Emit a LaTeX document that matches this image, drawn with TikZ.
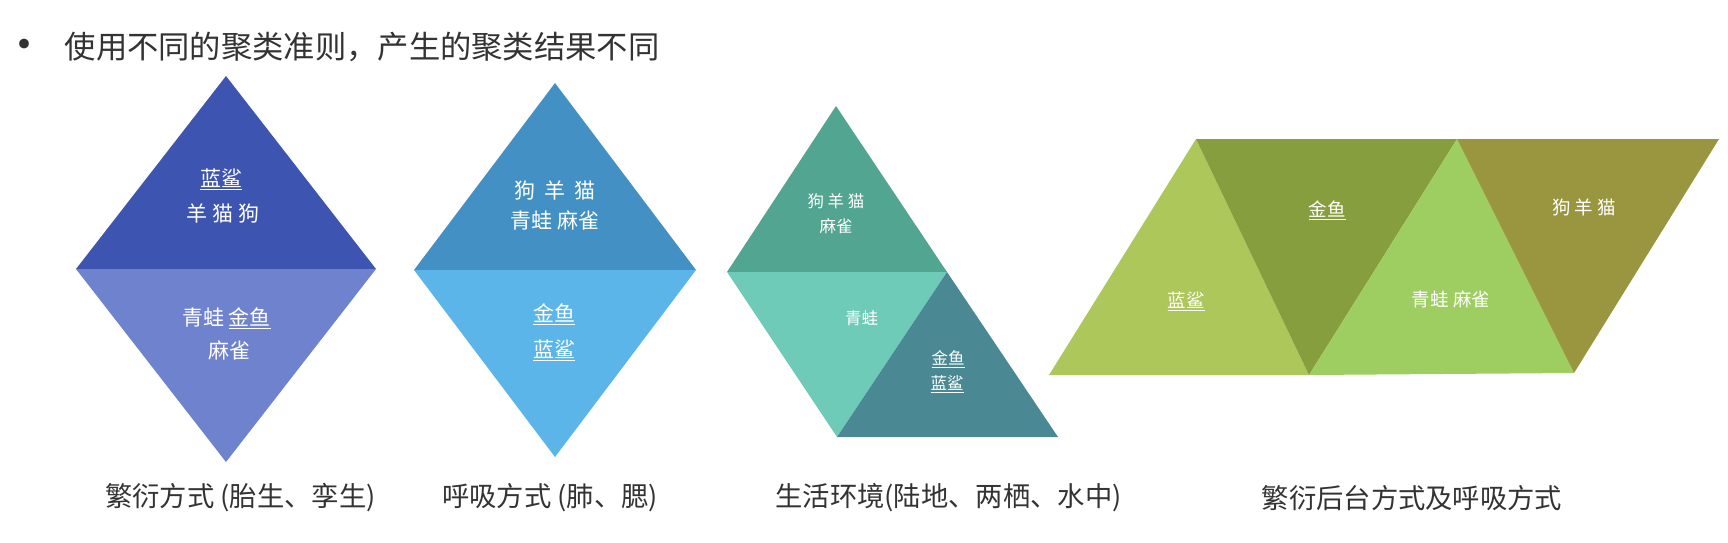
\documentclass[tikz,border=0pt]{standalone}
\usepackage{fontspec}
\newfontfamily\cjk{Noto Sans CJK SC}
\definecolor{dAt}{HTML}{3D55B0}
\definecolor{dAb}{HTML}{6F82CD}
\definecolor{dBt}{HTML}{4391C4}
\definecolor{dBb}{HTML}{5BB5E8}
\definecolor{sCt}{HTML}{52A591}
\definecolor{sCm}{HTML}{6ECBB8}
\definecolor{sCb}{HTML}{4A8993}
\definecolor{gA}{HTML}{ADC75A}
\definecolor{gB}{HTML}{869E3D}
\definecolor{gC}{HTML}{9ECE62}
\definecolor{gD}{HTML}{99963F}
\definecolor{txtdark}{HTML}{333333}
\newcommand\ulw[1]{\setbox0=\hbox{#1}\rlap{\raisebox{-0.18em}[0pt][0pt]{\rule{\wd0}{0.05em}}}\box0}
\begin{document}
\begin{tikzpicture}[x=1pt,y=-1pt,
  lbl/.style={text=white,inner sep=0pt,anchor=center},
  lblL/.style={lbl,font=\cjk\fontsize{21}{25}\selectfont},
  lblM/.style={lbl,font=\cjk\fontsize{18.5}{22}\selectfont},
  lblS/.style={lbl,font=\cjk\fontsize{16.5}{20}\selectfont},
  captxt/.style={text=txtdark,inner sep=0pt,anchor=center,font=\cjk\fontsize{27.3}{32}\selectfont},
  ttl/.style={text=txtdark,inner sep=0pt,font=\cjk\fontsize{31.3}{36}\selectfont},
  bulsty/.style={text=txtdark,inner sep=0pt,font=\cjk\fontsize{46}{50}\selectfont}]
\useasboundingbox (0,0) rectangle (1728,542);
\fill[white] (0,0) rectangle (1728,542);

% title
\node[bulsty,anchor=center] (bul) at (24.5,50) {•};
\node[ttl,anchor=west] (title) at (64.5,47) {使用不同的聚类准则，产生的聚类结果不同};

% diamond 1
\fill[dAt] (226,76) -- (376,269) -- (76,269) -- cycle;
\fill[dAb] (76,269) -- (376,269) -- (226,462) -- cycle;
\node[lblL] (a1) at (221,178) {\ulw{蓝鲨}};
\node[lblL] (a2) at (223,213) {羊 猫 狗};
\node[lblL] (a3) at (226.5,317) {青蛙 \ulw{金鱼}};
\node[lblL] (a4) at (229,350) {麻雀};

% diamond 2
\fill[dBt] (555,83) -- (696,270) -- (414,270) -- cycle;
\fill[dBb] (414,270) -- (696,270) -- (555,457) -- cycle;
\node[lblL] (b1) at (555,190.5) {狗\hspace{9pt}羊\hspace{9pt}猫};
\node[lblL] (b2) at (555,220) {青蛙 麻雀};
\node[lblL] (b3) at (554,313) {\ulw{金鱼}};
\node[lblL] (b4) at (554,349) {\ulw{蓝鲨}};

% shape 3
\fill[sCt] (836,106) -- (947,272) -- (727,272) -- cycle;
\fill[sCm] (727,272) -- (947,272) -- (837,437) -- cycle;
\fill[sCb] (947,272) -- (1058,437) -- (837,437) -- cycle;
\node[lblS] (c1) at (836,201.5) {狗 羊 猫};
\node[lblS] (c2) at (836,226.5) {麻雀};
\node[lblS] (c3) at (861.5,318.5) {青蛙};
\node[lblS] (c4) at (948,358) {\ulw{金鱼}};
\node[lblS] (c5) at (947,383) {\ulw{蓝鲨}};

% shape 4
\fill[gA] (1049,375) -- (1196,139) -- (1309,375) -- cycle;
\fill[gB] (1196,139) -- (1457,139) -- (1309,375) -- cycle;
\fill[gC] (1309,375) -- (1457,139) -- (1574,373) -- cycle;
\fill[gD] (1457,139) -- (1719,139) -- (1574,373) -- cycle;
\node[lblM] (e1) at (1327,209) {\ulw{金鱼}};
\node[lblM] (e2) at (1584,207) {狗 羊 猫};
\node[lblM] (e3) at (1186,300) {\ulw{蓝鲨}};
\node[lblM] (e4) at (1451,299) {青蛙 麻雀};

% captions
\node[captxt] (k1) at (240.5,498) {繁衍方式 (胎生、孪生)};
\node[captxt] (k2) at (550,498) {呼吸方式 (肺、腮)};
\node[captxt] (k3) at (948.5,498) {生活环境(陆地、两栖、水中)};
\node[captxt] (k4) at (1412,498) {繁衍后台方式及呼吸方式};
\end{tikzpicture}
\end{document}
